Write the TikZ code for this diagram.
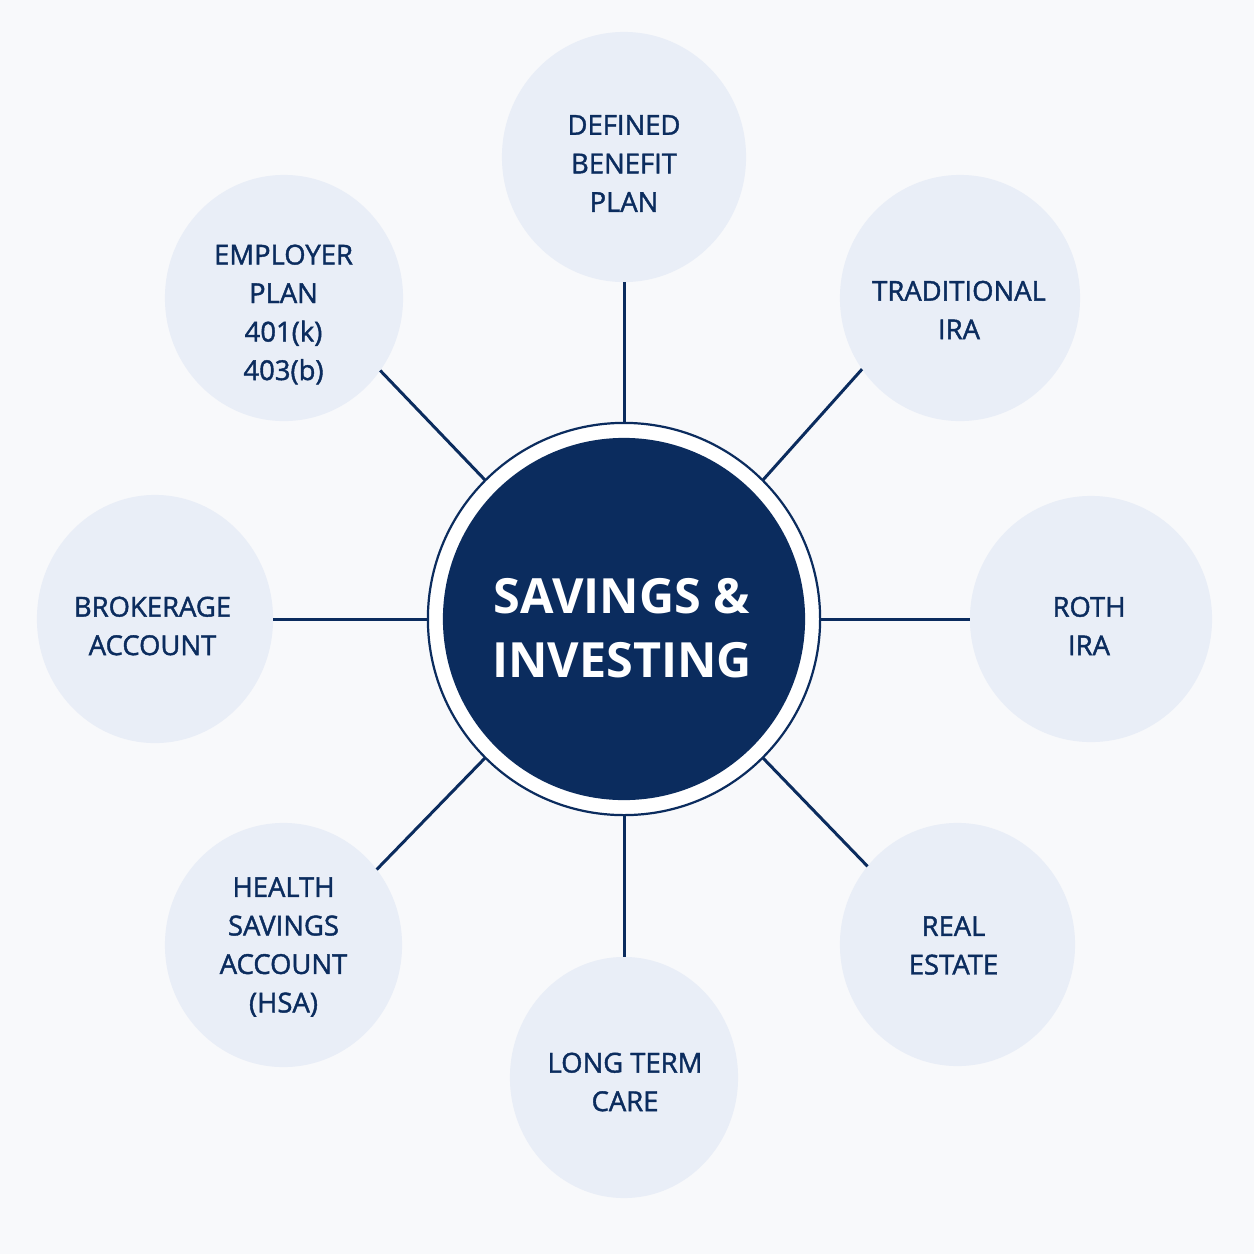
\documentclass[tikz,border=0pt]{standalone}
\usepackage{fontspec}
\setmainfont{Noto Sans}
\newfontfamily\satfont{Open Sans}[FakeBold=1.5]
\newfontfamily\hubfont{Open Sans}
\usetikzlibrary{shapes.geometric}
\definecolor{navy}{HTML}{0B2C5E}
\definecolor{satfill}{HTML}{E9EEF7}
\definecolor{bgcol}{HTML}{F8F9FB}
\begin{document}
\begin{tikzpicture}[x=0.01cm,y=-0.01cm,
  sat/.style={ellipse, fill=satfill, inner sep=0pt, outer sep=0pt},
  lbl/.style={align=center, text=navy, inner sep=0pt, font=\satfont\fontsize{7.8}{10.95}\selectfont},
  link/.style={draw=navy, line width=0.85pt},
  ]
\fill[bgcol] (0,0) rectangle (1254,1254);
\useasboundingbox (0,0) rectangle (1254,1254);

% hub
\node[circle, fill=white, draw=navy, line width=0.63pt, minimum size=3.92cm, inner sep=0pt, outer sep=0pt] (ring) at (624,619) {};
\node[circle, fill=navy, minimum size=3.62cm, inner sep=0pt, outer sep=0pt] (core) at (624,619) {};
\node[text=white, align=center, inner sep=0pt, font=\hubfont\bfseries\fontsize{13.8}{18.2}\selectfont] (title) at (622,628.5) {SAVINGS \&\\INVESTING};

% satellites
\node[sat, minimum width=2.44cm, minimum height=2.50cm] (dbp)  at (624,157) {};
\node[sat, minimum width=2.38cm, minimum height=2.46cm] (emp)  at (284,298) {};
\node[sat, minimum width=2.40cm, minimum height=2.46cm] (trad) at (960,298) {};
\node[sat, minimum width=2.42cm, minimum height=2.46cm] (roth) at (1091,619) {};
\node[sat, minimum width=2.36cm, minimum height=2.48cm] (brok) at (155,619) {};
\node[sat, minimum width=2.37cm, minimum height=2.44cm] (hsa)  at (283.5,945) {};
\node[sat, minimum width=2.35cm, minimum height=2.43cm] (re)   at (957.5,944.5) {};
\node[sat, minimum width=2.28cm, minimum height=2.41cm] (ltc)  at (624,1077.5) {};

% labels
\node[lbl] (dbpT)  at (624,163.5) {DEFINED\\BENEFIT\\PLAN};
\node[lbl] (empT)  at (283.5,314.5) {EMPLOYER\\PLAN\\401(k)\\403(b)};
\node[lbl] (tradT) at (959,310) {TRADITIONAL\\IRA};
\node[lbl] (rothT) at (1089,626) {ROTH\\IRA};
\node[lbl] (brokT) at (152.5,626) {BROKERAGE\\ACCOUNT};
\node[lbl] (hsaT)  at (283.5,947) {HEALTH\\SAVINGS\\ACCOUNT\\(HSA)};
\node[lbl] (reT)   at (953.5,945.5) {REAL\\ESTATE};
\node[lbl] (ltcT)  at (625,1082) {LONG TERM\\CARE};

% connectors
\draw[link] (ring.90)   -- (dbp.-90);
\draw[link] (ring.45)   -- (trad.216);
\draw[link] (ring.0)    -- (roth.180);
\draw[link] (ring.-45)  -- (re.139);
\draw[link] (ring.-90)  -- (ltc.90);
\draw[link] (ring.-135) -- (hsa.39);
\draw[link] (ring.180)  -- (brok.0);
\draw[link] (ring.135)  -- (emp.-37);
\end{tikzpicture}
\end{document}
